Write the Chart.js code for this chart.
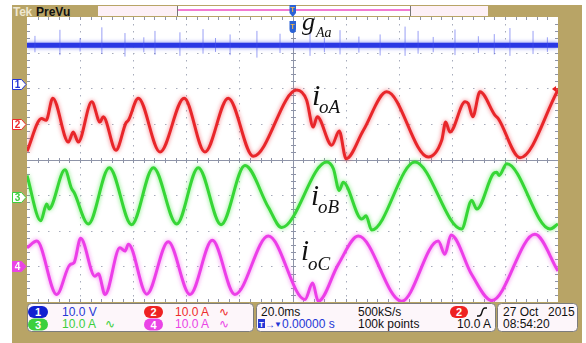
<!DOCTYPE html>
<html lang="en">
<head>
<meta charset="utf-8">
<title>PreVu capture: gAa, ioA, ioB, ioC</title>
<script src="https://cdn.jsdelivr.net/npm/chart.js@4.4.1/dist/chart.umd.min.js"></script>
<style>
  html, body { margin: 0; padding: 0; background: #fff; }
  #scope { position: relative; width: 586px; height: 343px; overflow: hidden; font-family: "Liberation Sans", Arial, sans-serif; }
  #scope svg, #scope canvas { position: absolute; }
  #back, #front { left: 0; top: 0; }
  #front { pointer-events: none; }
  #plot { left: 27px; top: 17px; }
  .serif { font-family: "Liberation Serif", "Times New Roman", serif; font-style: italic; fill: #111; }
</style>
</head>
<body>
<div id="scope">
  <svg id="back" width="586" height="343">
    <rect x="12" y="5" width="570" height="338" fill="#b8a466"/>
    <text x="13" y="15.5" font-size="12" font-weight="bold" fill="#efe7cf" letter-spacing="-0.3">Tek</text>
    <text x="36" y="15.5" font-size="12" font-weight="bold" fill="#111">PreVu</text>
    <rect x="98" y="6" width="390" height="10" fill="#fdf0f6"/>
    <rect x="177" y="6" width="233" height="10" fill="#fff"/>
    <line x1="177" y1="10" x2="410" y2="10" stroke="#f27ad2" stroke-width="2"/>
    <line x1="177.5" y1="6" x2="177.5" y2="16" stroke="#777"/>
    <line x1="410.5" y1="6" x2="410.5" y2="16" stroke="#777"/>
    <rect x="27" y="17" width="531" height="285" fill="#fff"/>

    <!-- vertical settings -->
    <rect x="27.5" y="303.5" width="226" height="28" rx="4" fill="#fdf6fa" stroke="#7c7c7c"/>
    <rect x="28" y="306" width="20" height="12" rx="6" fill="#1020d0"/>
    <text x="38" y="316" font-size="11" font-weight="bold" fill="#fff" text-anchor="middle">1</text>
    <text x="62" y="316" font-size="12" fill="#2436d6">10.0 V</text>
    <rect x="144" y="306" width="19" height="12" rx="6" fill="#ee2222"/>
    <text x="153.5" y="316" font-size="11" font-weight="bold" fill="#fff" text-anchor="middle">2</text>
    <text x="175" y="316" font-size="12" fill="#ee2b2b">10.0 A</text>
    <text x="219" y="316" font-size="12" fill="#ee2b2b">∿</text>
    <rect x="28" y="318.5" width="20" height="12" rx="6" fill="#3cd03c"/>
    <text x="38" y="328.5" font-size="11" font-weight="bold" fill="#fff" text-anchor="middle">3</text>
    <text x="62" y="328" font-size="12" fill="#3ccf3c">10.0 A</text>
    <text x="105" y="328" font-size="12" fill="#3ccf3c">∿</text>
    <rect x="144" y="318.5" width="19" height="12" rx="6" fill="#ea44e6"/>
    <text x="153.5" y="328.5" font-size="11" font-weight="bold" fill="#fff" text-anchor="middle">4</text>
    <text x="175" y="328" font-size="12" fill="#ea44e6">10.0 A</text>
    <text x="219" y="328" font-size="12" fill="#ea44e6">∿</text>

    <!-- horizontal / trigger settings -->
    <rect x="256.5" y="303.5" width="239" height="28" rx="4" fill="#fdf6fa" stroke="#7c7c7c"/>
    <text x="261" y="316" font-size="12" fill="#111">20.0ms</text>
    <text x="358" y="316" font-size="12" fill="#111">500kS/s</text>
    <rect x="450" y="306" width="18" height="12" rx="6" fill="#ee2222"/>
    <text x="459" y="316" font-size="11" font-weight="bold" fill="#fff" text-anchor="middle">2</text>
    <path d="M477,316 h2 q2,0 3,-4 q1,-4 3,-4 h2" fill="none" stroke="#111" stroke-width="1.4"/>
    <rect x="258" y="319" width="7" height="9" fill="#2436d6"/>
    <text x="261.5" y="327" font-size="8" font-weight="bold" fill="#fff" text-anchor="middle">T</text>
    <text x="265" y="327.5" font-size="10" fill="#2436d6">→</text>
    <text x="274" y="327" font-size="8" fill="#2436d6">▼</text>
    <text x="282" y="328" font-size="12" fill="#2436d6">0.00000 s</text>
    <text x="358" y="328" font-size="12" fill="#111">100k points</text>
    <text x="457" y="328" font-size="12" fill="#111">10.0 A</text>

    <!-- date / time -->
    <rect x="497.5" y="303.5" width="80" height="28" rx="4" fill="#fdf6fa" stroke="#7c7c7c"/>
    <text x="503" y="316" font-size="12" fill="#111">27 Oct</text>
    <text x="548" y="316" font-size="12" fill="#111">2015</text>
    <text x="503" y="328" font-size="12" fill="#111">08:54:20</text>
  </svg>

  <canvas id="plot" width="531" height="285"></canvas>

  <svg id="front" width="586" height="343">
    <!-- trigger position markers -->
    <path d="M289.5,5 h6.5 v8 l-3.25,4 l-3.25,-4 z" fill="#2a62d6"/>
    <text x="292.7" y="12" font-size="7" font-weight="bold" fill="#f2b347" text-anchor="middle">T</text>
    <path d="M289.5,21 h6.5 v8 q0,4 -3.25,4 q-3.25,0 -3.25,-4 z" fill="#2a62d6"/>
    <text x="292.7" y="29" font-size="7" font-weight="bold" fill="#f2b347" text-anchor="middle">T</text>

    <!-- channel ground markers -->
    <path d="M12.5,79.5 h9 l4.5,5 l-4.5,5 h-9 z" fill="#fff" stroke="#2436d6"/>
    <text x="17.5" y="88" font-size="10" font-weight="bold" fill="#2436d6" text-anchor="middle">1</text>
    <path d="M12.5,119.5 h9 l4.5,5 l-4.5,5 h-9 z" fill="#fff" stroke="#ee2b2b"/>
    <text x="17.5" y="128" font-size="10" font-weight="bold" fill="#ee2b2b" text-anchor="middle">2</text>
    <path d="M12.5,192.5 h9 l4.5,5 l-4.5,5 h-9 z" fill="#fff" stroke="#3ccf3c"/>
    <text x="17.5" y="201" font-size="10" font-weight="bold" fill="#3ccf3c" text-anchor="middle">3</text>
    <path d="M12.5,261.5 h9 l4.5,5 l-4.5,5 h-9 z" fill="#ea44e6" stroke="#ea44e6"/>
    <text x="17.5" y="270" font-size="10" font-weight="bold" fill="#fff" text-anchor="middle">4</text>

    <!-- ch2 trigger level -->
    <path d="M552,89 l4,-3 v6 z" fill="#e82020"/>
    <line x1="555" y1="89" x2="558" y2="89" stroke="#e82020" stroke-width="1.5"/>

    <!-- trace names -->
    <text class="serif" x="302" y="30" font-size="26">g</text>
    <text class="serif" x="316" y="37" font-size="14">Aa</text>
    <text class="serif" x="312" y="105" font-size="30">i</text>
    <text class="serif" x="319" y="113" font-size="19">oA</text>
    <text class="serif" x="311" y="205" font-size="29">i</text>
    <text class="serif" x="318" y="213" font-size="19">oB</text>
    <text class="serif" x="301" y="260" font-size="29">i</text>
    <text class="serif" x="308" y="270" font-size="19">oC</text>
  </svg>
</div>

<script>
// 20 ms/div, 10 divisions -> 0..200 ms across the screen
const TIME_MIN = 0;
const TIME_MAX = 200;

// channel settings: vertical position (divisions from centre) and units per division
const CH1 = { offset: 2.11, perDiv: 10 };   // gAa, 10.0 V/div
const CH2 = { offset: 0.99, perDiv: 10 };   // ioA, 10.0 A/div
const CH3 = { offset: -1.07, perDiv: 10 };  // ioB, 10.0 A/div
const CH4 = { offset: -3.05, perDiv: 10 };  // ioC, 10.0 A/div

// gate signal gAa (V): flat level plus the visible switching spikes
const gAaTime = [0, 200];
const gAaVolts = [11, 11];
const gAaSpikeTime = [3, 12.4, 20, 28.2, 36.9, 44, 48.2, 57.6, 66.3, 71, 76.5, 86.6, 95.3, 106.6, 112, 117.9, 125, 133, 142.4, 147.3, 153, 161.2, 170, 176, 181.9, 190.6, 196];
const gAaSpikeHigh = [13.6, 15.3, 13.0, 16.0, 14.4, 13.2, 15.0, 14.6, 15.5, 13.0, 14.0, 15.0, 14.2, 14.8, 13.1, 15.2, 13.4, 14.0, 16.2, 15.0, 13.3, 15.4, 13.5, 14.1, 15.8, 15.0, 13.2];
const gAaSpikeLow = [9.0, 8.2, 9.2, 8.5, 7.8, 9.0, 8.3, 8.0, 8.6, 9.1, 8.2, 7.5, 8.8, 8.0, 9.0, 8.4, 8.9, 8.1, 8.0, 8.6, 9.0, 8.2, 8.8, 8.4, 8.0, 8.5, 9.1];

// output current ioA (A)
const ioATime = [0, 5.5, 7.2, 9.7, 15.6, 17.4, 19.3, 24.4, 27.5, 28.7, 33.5, 37.3, 38.2, 41.9, 50.1, 59.2, 67.0, 75.8, 85.2, 101.6, 105.3, 107.8, 109.3, 114.8, 117.6, 120.2, 126.7, 135.5, 151.1, 156.2, 157.7, 159.3, 165.0, 166.2, 167.9, 170.6, 176.3, 177.5, 185.7, 200];
const ioACurrent = [-7.6, 1.6, 1.1, 7.3, -5.0, -2.2, -5.0, 6.3, 0.6, 2.1, -7.3, 0.4, 1.1, 7.3, -7.8, 7.3, -7.8, 7.3, -9.0, 9.6, 6.8, -0.8, 2.1, -5.9, -1.9, -9.7, -1.7, 9.1, -9.2, -4.5, 0.6, -2.2, 6.3, 5.8, 2.1, 9.1, 2.5, 1.6, -9.4, 9.6];

// output current ioB (A)
const ioBTime = [0, 5.2, 7.4, 8.4, 9.3, 14.3, 16.8, 17.7, 23.1, 31.0, 39.4, 47.6, 56.4, 64.5, 73.1, 82.1, 90.9, 95.9, 112.9, 115.4, 117.6, 119.1, 126.1, 127.7, 129.8, 146.1, 163.7, 167.5, 169.4, 175.6, 176.9, 177.8, 180.7, 197.0, 200];
const ioBCurrent = [6.2, -6.5, -1.8, -3.2, -2.3, 7.8, 2.5, 1.5, -7.4, 8.4, -7.6, 8.4, -7.4, 8.4, -7.6, 9.0, -2.7, -8.4, 10.0, 8.1, 2.0, 4.3, -6.0, -5.1, -9.1, 10.0, -8.8, -0.8, -3.2, 6.7, 7.1, 6.2, 9.5, -8.8, -7.4];

// output current ioC (A)
const ioCTime = [0, 3.7, 11.2, 16.2, 17.7, 20.2, 25.6, 26.9, 29.4, 35.0, 36.9, 38.2, 45.1, 53.2, 61.4, 69.8, 78.3, 90.9, 104.7, 107.6, 109.7, 117.2, 124.8, 141.1, 154.9, 157.4, 159.7, 167.5, 175.0, 191.3, 200];
const ioCCurrent = [5.7, 7.6, -7.4, 1.0, 1.5, 8.4, -2.3, -1.6, -7.4, 5.7, 4.8, 6.7, -7.3, 7.4, -7.4, 7.8, -7.4, 9.0, -8.8, -4.2, -9.3, 1.0, 9.0, -9.3, 7.6, 3.9, 9.3, -1.8, -9.1, 9.5, -0.8];

function toPoints(times, values, channel) {
  return times.map((t, k) => ({ x: t, y: channel.offset + values[k] / channel.perDiv }));
}

function spikePoints(times, highs, lows, channel) {
  const points = [];
  times.forEach((t, k) => {
    points.push({ x: t, y: channel.offset + lows[k] / channel.perDiv });
    points.push({ x: t, y: channel.offset + highs[k] / channel.perDiv });
    points.push({ x: t, y: null });
  });
  return points;
}

// scope graticule: dotted divisions, centre crosshair and edge ticks
const graticule = {
  id: "graticule",
  beforeDatasetsDraw(chart) {
    const { ctx, chartArea: a, scales: { x, y } } = chart;
    const stepX = (a.right - a.left) / 50;
    const stepY = (a.bottom - a.top) / 40;
    const cx = Math.round(x.getPixelForValue(100)) + 0.5;
    const cy = Math.round(y.getPixelForValue(0)) + 0.5;

    ctx.save();
    ctx.fillStyle = "#a6abbb";
    for (let c = 1; c < 10; c++) {
      if (c === 5) continue;
      const px = Math.round(x.getPixelForValue(c * 20));
      for (let r = 0; r <= 40; r++) ctx.fillRect(px, Math.round(a.top + r * stepY), 1, 1.5);
    }
    for (let r = 1; r < 8; r++) {
      if (r === 4) continue;
      const py = Math.round(y.getPixelForValue(r - 4));
      for (let c = 0; c <= 50; c++) ctx.fillRect(Math.round(a.left + c * stepX), py, 1.5, 1);
    }

    ctx.strokeStyle = "#8e94a8";
    ctx.lineWidth = 1;
    ctx.beginPath();
    ctx.moveTo(a.left, cy);
    ctx.lineTo(a.right, cy);
    ctx.moveTo(cx, a.top);
    ctx.lineTo(cx, a.bottom);
    for (let c = 1; c < 50; c++) {
      const px = Math.round(a.left + c * stepX) + 0.5;
      ctx.moveTo(px, cy - 2.5);
      ctx.lineTo(px, cy + 2.5);
      ctx.moveTo(px, a.top);
      ctx.lineTo(px, a.top + 3);
      ctx.moveTo(px, a.bottom);
      ctx.lineTo(px, a.bottom - 3);
    }
    for (let r = 1; r < 40; r++) {
      const py = Math.round(a.top + r * stepY) + 0.5;
      ctx.moveTo(cx - 2.5, py);
      ctx.lineTo(cx + 2.5, py);
      ctx.moveTo(a.left, py);
      ctx.lineTo(a.left + 3, py);
      ctx.moveTo(a.right, py);
      ctx.lineTo(a.right - 3, py);
    }
    ctx.stroke();
    ctx.restore();
  },
};

// soft phosphor halo around each trace
const glow = {
  id: "glow",
  beforeDatasetDraw(chart, args) {
    const dataset = chart.data.datasets[args.index];
    chart.ctx.save();
    chart.ctx.shadowColor = dataset.glowColor || "transparent";
    chart.ctx.shadowBlur = dataset.glowColor ? 4 : 0;
  },
  afterDatasetDraw(chart) {
    chart.ctx.restore();
  },
};

function traceDataset(label, data, color, glowColor) {
  return {
    label,
    data,
    borderColor: color,
    borderWidth: 3,
    glowColor,
    pointRadius: 0,
    cubicInterpolationMode: "monotone",
  };
}

new Chart(document.querySelector("#plot"), {
  type: "line",
  data: {
    datasets: [
      traceDataset("ioA", toPoints(ioATime, ioACurrent, CH2), "#e8262a", "rgba(240,80,90,0.8)"),
      traceDataset("ioB", toPoints(ioBTime, ioBCurrent, CH3), "#36d636", "rgba(90,230,90,0.8)"),
      traceDataset("ioC", toPoints(ioCTime, ioCCurrent, CH4), "#ec3ee8", "rgba(240,100,235,0.8)"),
      {
        label: "gAa spikes",
        data: spikePoints(gAaSpikeTime, gAaSpikeHigh, gAaSpikeLow, CH1),
        borderColor: "rgba(70,80,235,0.55)",
        borderWidth: 1,
        pointRadius: 0,
        spanGaps: false,
        tension: 0,
      },
      {
        label: "gAa",
        data: toPoints(gAaTime, gAaVolts, CH1),
        borderColor: "#2a38e4",
        borderWidth: 5,
        glowColor: "rgba(90,100,240,0.8)",
        pointRadius: 0,
        tension: 0,
      },
    ],
  },
  options: {
    responsive: false,
    animation: false,
    devicePixelRatio: 1,
    layout: { padding: 0 },
    plugins: {
      legend: { display: false },
      tooltip: { enabled: false },
    },
    scales: {
      x: { type: "linear", min: TIME_MIN, max: TIME_MAX, display: false },
      y: { type: "linear", min: -4, max: 4, display: false },
    },
  },
  plugins: [graticule, glow],
});
</script>
</body>
</html>
